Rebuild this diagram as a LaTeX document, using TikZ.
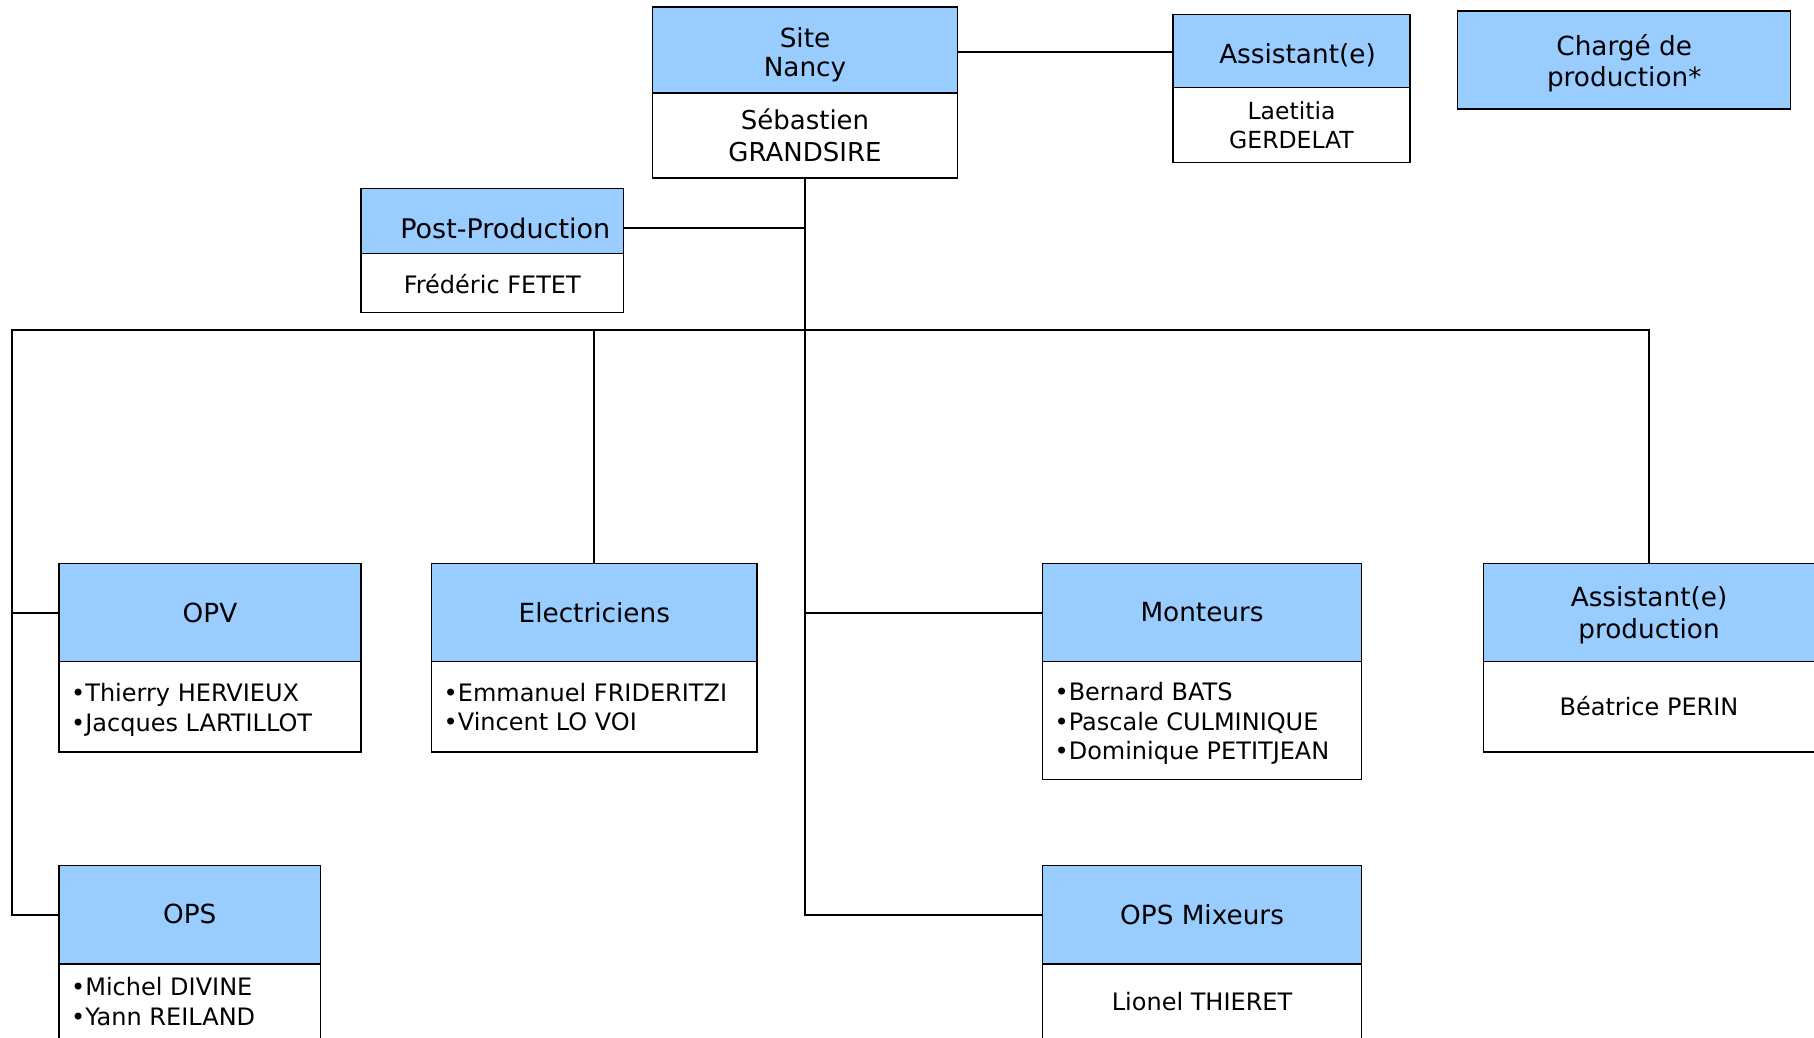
\documentclass[tikz,border=0pt]{standalone}
\usepackage{fontspec}
\setmainfont{DejaVu Sans}
\definecolor{hdrblue}{HTML}{99CCFF}
\tikzset{
  hdr/.style={draw=black, line width=1.3pt, fill=hdrblue, anchor=north west,
    inner sep=0pt, outer sep=0pt},
  bdy/.style={draw=black, line width=1.3pt, fill=white, anchor=north west,
    inner sep=0pt, outer sep=0pt},
  htxt/.style={inner sep=0pt, align=center, font=\fontsize{26.3}{31}\selectfont},
  btxt/.style={inner sep=0pt, align=center, font=\fontsize{24}{29.5}\selectfont},
  ltxt/.style={btxt, align=left, anchor=west},
  link/.style={line width=2pt, line cap=rect}
}
\begin{document}
\begin{tikzpicture}[x=1pt,y=-1pt]
\useasboundingbox (0,0) rectangle (1814,1037);
\clip (0,0) rectangle (1814,1037);
\fill[white] (0,0) rectangle (1814,1037);

% Site Nancy
\node[hdr, minimum width=305pt, minimum height=86pt] (site) at (652.5,7) {};
\node[htxt, yshift=-5pt, font=\fontsize{26.3}{29}\selectfont] (site-t) at (site.center) {Site\\Nancy};
\node[bdy, minimum width=305pt, minimum height=85pt] (siteb) at (site.south west) {};
\node[btxt, font=\fontsize{26}{32}\selectfont] (siteb-t) at (siteb.center) {Sébastien\\GRANDSIRE};

% Assistant(e) top
\node[hdr, minimum width=237pt, minimum height=73pt] (asst) at (1173,14.3) {};
\node[htxt, yshift=-4.5pt, xshift=6pt] (asst-t) at (asst.center) {Assistant(e)};
\node[bdy, minimum width=237pt, minimum height=75pt] (asstb) at (asst.south west) {};
\node[btxt, yshift=-0.5pt, font=\fontsize{23.5}{29}\selectfont] (asstb-t) at (asstb.center) {Laetitia\\GERDELAT};

% Chargé de production
\node[hdr, minimum width=333pt, minimum height=98pt] (charge) at (1457.7,11) {};
\node[htxt, yshift=-3.5pt] (charge-t) at (charge.center) {Chargé de\\production*};

% Post-Production
\node[hdr, minimum width=262.6pt, minimum height=64.8pt] (pp) at (361,188.6) {};
\node[htxt, yshift=-7pt, xshift=13pt, font=\fontsize{27}{31}\selectfont] (pp-t) at (pp.center) {Post-Production};
\node[bdy, minimum width=262.6pt, minimum height=59pt] (ppb) at (pp.south west) {};
\node[btxt, yshift=-1pt] (ppb-t) at (ppb.center) {Frédéric FETET};

% OPV
\node[hdr, minimum width=302pt, minimum height=98.4pt] (opv) at (59,563.3) {};
\node[htxt] (opv-t) at (opv.center) {OPV};
\node[bdy, minimum width=302pt, minimum height=90.3pt] (opvb) at (opv.south west) {};
\node[ltxt, xshift=12pt, yshift=-3pt] (opvb-t) at (opvb.west) {•Thierry HERVIEUX\\•Jacques LARTILLOT};

% Electriciens
\node[hdr, minimum width=325.6pt, minimum height=98.4pt] (elec) at (431.5,563.3) {};
\node[htxt] (elec-t) at (elec.center) {Electriciens};
\node[bdy, minimum width=325.6pt, minimum height=90.3pt] (elecb) at (elec.south west) {};
\node[ltxt, xshift=12pt] (elecb-t) at (elecb.west) {•Emmanuel FRIDERITZI\\•Vincent LO VOI};

% Monteurs
\node[hdr, minimum width=319.3pt, minimum height=98.4pt] (mont) at (1042.4,563.3) {};
\node[htxt] (mont-t) at (mont.center) {Monteurs};
\node[bdy, minimum width=319.3pt, minimum height=117.6pt] (montb) at (mont.south west) {};
\node[ltxt, xshift=12pt, yshift=-3pt] (montb-t) at (montb.west) {•Bernard BATS\\•Pascale CULMINIQUE\\•Dominique PETITJEAN};

% Assistant(e) production
\node[hdr, minimum width=331.6pt, minimum height=98.4pt] (apr) at (1483.2,563.3) {};
\node[htxt, yshift=-3pt, font=\fontsize{26.3}{32.4}\selectfont] (apr-t) at (apr.center) {Assistant(e)\\production};
\node[bdy, minimum width=331.6pt, minimum height=90.3pt] (aprb) at (apr.south west) {};
\node[btxt, yshift=1pt] (aprb-t) at (aprb.center) {Béatrice PERIN};

% OPS
\node[hdr, minimum width=261.5pt, minimum height=98.3pt] (ops) at (59,865.7) {};
\node[htxt, yshift=1pt] (ops-t) at (ops.center) {OPS};
\node[bdy, minimum width=261.5pt, minimum height=80pt] (opsb) at (ops.south west) {};
\node[ltxt, xshift=12pt, yshift=2.3pt] (opsb-t) at (opsb.west) {•Michel DIVINE\\•Yann REILAND};

% OPS Mixeurs
\node[hdr, minimum width=319.3pt, minimum height=98.3pt] (opsm) at (1042.4,865.7) {};
\node[htxt] (opsm-t) at (opsm.center) {OPS Mixeurs};
\node[bdy, minimum width=319.3pt, minimum height=80pt] (opsmb) at (opsm.south west) {};
\node[btxt, yshift=2.3pt] (opsmb-t) at (opsmb.center) {Lionel THIERET};

% bus coordinate
\coordinate (busL) at (11.6,330);

% connectors
\draw[link] ([yshift=-2pt]site.east) -- ([yshift=-2pt]site.east -| asst.west);
\draw[link] (siteb.south) -- (siteb.south |- opsm.west) -- (opsm.west);
\draw[link] ([yshift=-6.5pt]pp.east) -- ([yshift=-6.5pt]pp.east -| siteb.south);
\draw[link] (ops.west) -| (busL) -| (apr.north);
\draw[link] (opv.west) -- (opv.west -| busL);
\draw[link] (elec.north) -- (elec.north |- busL);
\draw[link] (mont.west) -- (mont.west -| siteb.south);
\end{tikzpicture}
\end{document}
